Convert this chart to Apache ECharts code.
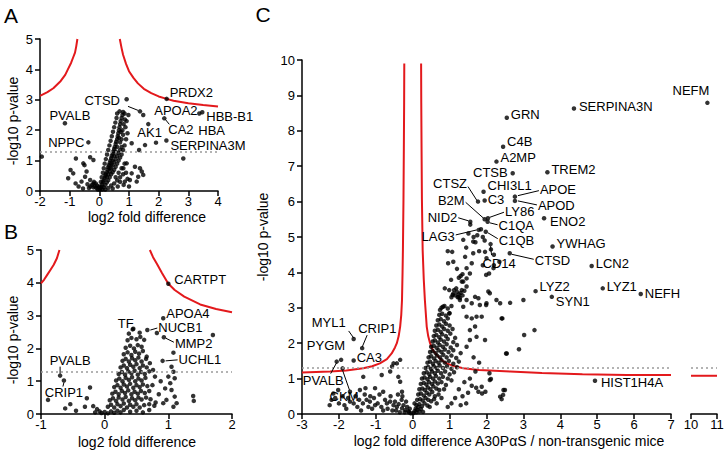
<!DOCTYPE html>
<html><head><meta charset="utf-8">
<script src="https://cdn.jsdelivr.net/npm/echarts@6/dist/echarts.min.js"></script>
<style>html,body{margin:0;padding:0;background:#fff}#c{width:725px;height:453px}</style>
</head><body><div id="c"></div>
<script>
// ---------- DATA ----------
const pThreshold = 1.3;
const xRangeA = [-2, 4], yRangeA = [0, 5];
const xRangeB = [-1, 2], yRangeB = [0, 5];
const xRangeC = [-3, 7], xRangeC2 = [10, 11], yRangeC = [0, 10];

const aPoints = [
[-1.94,1.13],[-0.79,1.07],[-0.31,1.11],[-0.20,1.02],[-0.97,0.69],[-0.88,0.58],[-0.54,0.91],[-0.5,0.85],[-0.43,0.64],[-0.48,0.47],[-1.05,0.42],[-0.6,0.31],[-0.31,0.36],[-0.2,0.25],[-0.8,0.25],[-0.7,0.15],[-0.55,0.08],
[1.09,1.57],[1.54,1.51],[1.91,1.59],[1.34,1.35],[2.83,1.07],[0.92,0.91],[1.2,0.8],[1.37,0.75],[1.43,0.64],[1.31,0.47],[1.09,0.58],[1.03,0.36],[1.26,0.31],[1.48,0.53],[0.86,0.31],[0.81,0.75],[0.92,3.02],
[0.02,0.05],[0.05,0.1],[0.08,0.15],[0.1,0.22],[0.12,0.3],[0.15,0.35],[0.18,0.42],[0.2,0.5],[0.22,0.55],[0.25,0.62],[0.28,0.7],[0.3,0.78],[0.32,0.85],[0.35,0.92],[0.37,1.0],[0.4,1.08],[0.42,1.15],[0.45,1.22],[0.47,1.3],[0.5,1.38],[0.52,1.45],[0.55,1.55],[0.57,1.62],[0.6,1.7],[0.62,1.8],[0.64,1.9],[0.66,2.0],[0.68,2.1],[0.7,2.2],[0.72,2.3],[0.75,2.4],[0.78,2.5],[0.8,2.6],
[0.1,0.05],[0.15,0.12],[0.2,0.2],[0.25,0.28],[0.3,0.35],[0.35,0.45],[0.4,0.55],[0.45,0.62],[0.5,0.7],[0.55,0.8],[0.6,0.9],[0.65,1.0],[0.7,1.1],[0.75,1.2],[0.8,1.35],[0.85,1.5],[0.9,1.7],[0.95,1.9],[0.88,2.1],[0.92,2.3],[0.98,2.5],[0.85,2.55],
[0.2,0.05],[0.3,0.1],[0.4,0.18],[0.5,0.25],[0.6,0.35],[0.7,0.45],[0.8,0.55],[0.9,0.6],[0.55,0.45],[0.65,0.6],[0.75,0.75],[0.85,0.9],[0.7,0.3],[0.82,0.2],[0.95,0.4],[1.0,0.15],[0.62,0.15],[0.45,0.08],
[0.0,0.15],[0.05,0.3],[0.08,0.45],[0.12,0.6],[0.15,0.75],[0.18,0.9],[0.22,1.05],[0.26,1.2],[0.3,1.35],[0.34,1.5],[0.38,1.65],[0.42,1.8],[0.46,1.95],[0.5,2.1],[0.54,2.25],[0.58,2.4],[0.6,2.55],[0.68,2.62],
[0.25,0.45],[0.3,0.55],[0.35,0.65],[0.4,0.75],[0.45,0.85],[0.5,0.95],[0.55,1.05],[0.6,1.15],[0.65,1.25],[0.7,1.35],[0.75,1.45],[0.7,1.6],[0.75,1.7],[0.8,1.85],[0.78,2.0],[0.82,2.2],[0.86,2.35],[0.72,1.95],[0.66,1.75],[0.6,1.45],[0.55,1.3],[0.5,1.15],[0.45,1.0],[0.4,0.88],[0.35,0.75],
[-0.05,0.05],[-0.1,0.1],[-0.15,0.15],[-0.2,0.12],[-0.25,0.2],[-0.3,0.15],[-0.12,0.25],[-0.08,0.18],[-0.35,0.1],[-0.4,0.22],[-0.02,0.12],[-0.18,0.3]
];
const aLabeled = [['PRDX2',2.27,3.03],['CTSD',1.37,2.62],['APOA2',1.48,2.5],['HBB-B1',3.47,2.59],['HBA',3.37,2.55],['CA2',2.19,2.39],['AK1',1.65,2.2],['SERPINA3M',2.26,1.66],['PVALB',-1.16,2.23],['NPPC',-0.37,1.6]];
const aCurveL = [[-2,3.13],[-1.75,3.25],[-1.55,3.38],[-1.3,3.62],[-1.15,3.82],[-1.06,4.0],[-0.95,4.22],[-0.88,4.4],[-0.82,4.55],[-0.78,4.75],[-0.74,5.0]];
const aCurveR = [[0.69,5.0],[0.75,4.7],[0.8,4.48],[0.9,4.18],[1.0,3.94],[1.15,3.72],[1.3,3.54],[1.5,3.36],[1.75,3.22],[2.0,3.11],[2.27,3.03],[2.5,2.97],[3.0,2.89],[3.5,2.83],[4.0,2.78]];

const bPoints = [
[-0.05,0.03],[0.0,0.06],[0.05,0.02],[0.1,0.08],[0.15,0.04],[0.2,0.1],[0.25,0.05],[0.3,0.12],[0.4,0.07],[0.5,0.1],[0.6,0.05],[0.7,0.12],
[0.05,0.22],[0.1,0.28],[0.15,0.2],[0.2,0.3],[0.25,0.24],[0.3,0.32],[0.35,0.2],[0.4,0.28],[0.45,0.22],[0.5,0.3],[0.55,0.2],[0.62,0.27],[0.7,0.3],[0.78,0.25],
[0.08,0.42],[0.13,0.48],[0.18,0.4],[0.22,0.5],[0.28,0.44],[0.33,0.52],[0.38,0.4],[0.43,0.48],[0.48,0.42],[0.53,0.5],[0.58,0.44],[0.65,0.5],[0.72,0.45],
[0.12,0.62],[0.17,0.68],[0.22,0.6],[0.27,0.7],[0.32,0.64],[0.37,0.72],[0.42,0.6],[0.47,0.68],[0.52,0.62],[0.57,0.7],[0.63,0.64],[0.7,0.7],
[0.15,0.82],[0.2,0.88],[0.25,0.8],[0.3,0.9],[0.35,0.84],[0.4,0.92],[0.45,0.8],[0.5,0.88],[0.55,0.82],[0.6,0.9],[0.67,0.85],[0.75,0.88],
[0.18,1.02],[0.23,1.08],[0.28,1.0],[0.33,1.1],[0.38,1.04],[0.43,1.12],[0.48,1.0],[0.53,1.08],[0.58,1.02],[0.64,1.1],
[0.22,1.22],[0.27,1.28],[0.32,1.2],[0.37,1.3],[0.42,1.24],[0.47,1.32],[0.52,1.2],[0.57,1.28],[0.63,1.22],[0.7,1.3],
[0.25,1.42],[0.3,1.48],[0.35,1.4],[0.4,1.5],[0.45,1.44],[0.5,1.52],[0.55,1.4],[0.6,1.48],[0.66,1.42],
[0.28,1.62],[0.33,1.68],[0.38,1.6],[0.43,1.7],[0.48,1.64],[0.53,1.72],[0.58,1.6],[0.65,1.68],
[0.3,1.82],[0.36,1.88],[0.42,1.8],[0.48,1.9],[0.54,1.84],[0.6,1.92],
[0.33,2.02],[0.4,2.08],[0.46,2.0],[0.52,2.1],[0.58,2.05],
[0.36,2.25],[0.42,2.32],[0.5,2.28],[0.56,2.35],[0.62,2.26],
[0.38,2.45],[0.45,2.6],[0.55,2.48],[0.82,2.47],
[0.71,1.55],[0.76,1.34],[0.79,1.14],[0.66,1.75],[1.0,1.14],[1.03,0.94],[1.05,0.73],[1.1,0.53],[1.13,0.33],[1.08,0.22],[0.95,0.78],[0.97,0.43],[0.92,0.33],[1.05,1.44],[1.08,1.29],[1.1,1.09],[1.08,1.87],[1.7,2.41],[1.39,0.55],[1.4,0.4],[0.85,0.6],[0.8,0.35],[0.88,1.0],
[-0.89,0.43],[-0.62,0.17],[-0.54,0.3],[-0.23,0.81],[-0.28,0.48],[-0.31,0.22],[-0.18,0.24],[-0.12,0.15],[-0.08,0.08],[-0.15,0.05],[-0.45,0.1]
];
const bLabeled = [['CARTPT',1.0,3.97],['APOA4',0.92,2.92],['NUCB1',0.67,2.56],['TF',0.44,2.58],['MMP2',0.93,2.34],['UCHL1',0.91,1.62],['PVALB',-0.70,1.17],['CRIP1',-0.64,1.02]];
const bCurveL = [[-1,3.98],[-0.95,4.1],[-0.9,4.25],[-0.85,4.4],[-0.8,4.55],[-0.75,4.75],[-0.71,5.0]];
const bCurveR = [[0.71,5.0],[0.76,4.78],[0.82,4.58],[0.9,4.3],[1.0,3.97],[1.1,3.78],[1.25,3.58],[1.5,3.34],[1.75,3.2],[2.0,3.1]];

const cPoints = [
[0.02,0.03],[0.05,0.08],[0.1,0.05],[0.12,0.12],[0.18,0.07],[0.22,0.14],[0.28,0.06],[0.08,0.15],[0.15,0.2],
[0.1,0.25],[0.18,0.28],[0.25,0.22],[0.32,0.3],[0.4,0.24],[0.46,0.2],[0.05,0.3],
[0.12,0.4],[0.2,0.42],[0.27,0.38],[0.35,0.45],[0.42,0.4],[0.5,0.36],[0.58,0.42],[0.65,0.3],
[0.15,0.55],[0.22,0.58],[0.3,0.52],[0.38,0.6],[0.45,0.55],[0.53,0.62],[0.6,0.5],[0.7,0.55],[0.78,0.45],
[0.18,0.7],[0.26,0.72],[0.33,0.68],[0.41,0.75],[0.48,0.7],[0.56,0.78],[0.64,0.72],[0.72,0.68],[0.85,0.7],
[0.22,0.85],[0.3,0.88],[0.37,0.83],[0.44,0.9],[0.52,0.85],[0.6,0.92],[0.68,0.86],[0.78,0.9],[0.9,0.82],
[0.25,1.0],[0.32,1.03],[0.4,0.98],[0.47,1.05],[0.55,1.0],[0.63,1.07],[0.72,1.0],[0.82,1.05],[0.95,1.0],[1.05,0.95],
[0.3,1.15],[0.38,1.18],[0.45,1.12],[0.52,1.2],[0.6,1.15],[0.68,1.22],[0.77,1.15],[0.88,1.2],[1.0,1.12],[1.12,1.18],
[0.35,1.3],[0.42,1.33],[0.5,1.27],[0.57,1.35],[0.65,1.3],[0.73,1.37],[0.82,1.3],[0.93,1.35],[1.05,1.28],[1.2,1.32],
[0.4,1.45],[0.47,1.48],[0.55,1.42],[0.62,1.5],[0.7,1.45],[0.78,1.52],[0.87,1.45],[0.98,1.5],[1.1,1.42],[1.25,1.48],
[0.43,1.6],[0.5,1.63],[0.58,1.57],[0.66,1.65],[0.74,1.6],[0.83,1.67],[0.92,1.6],[1.05,1.65],[1.18,1.58],
[0.47,1.75],[0.54,1.78],[0.62,1.72],[0.7,1.8],[0.78,1.75],[0.87,1.82],[0.97,1.75],[1.1,1.8],[1.3,1.72],
[0.5,1.9],[0.57,1.93],[0.65,1.87],[0.73,1.95],[0.82,1.9],[0.92,1.97],[1.03,1.88],[1.2,1.95],
[0.54,2.05],[0.6,2.08],[0.68,2.02],[0.76,2.1],[0.85,2.05],[0.95,2.12],[1.1,2.03],
[0.57,2.2],[0.64,2.23],[0.72,2.17],[0.8,2.25],[0.9,2.2],[1.02,2.27],[1.15,2.15],
[0.6,2.35],[0.68,2.38],[0.76,2.32],[0.85,2.4],[0.95,2.35],[1.08,2.4],
[0.64,2.5],[0.72,2.53],[0.8,2.47],[0.9,2.55],[1.0,2.5],
[0.68,2.65],[0.76,2.68],[0.85,2.62],[0.95,2.7],
[0.72,2.8],[0.8,2.83],[0.9,2.78],[1.0,2.85],
[0.78,3.0],[0.86,3.05],[0.95,2.98],[1.05,3.05],
[1.05,3.3],[1.1,3.4],[1.15,3.35],[1.2,3.45],[1.25,3.38],[1.3,3.42],[1.18,3.55],[1.22,3.3],[1.28,3.28],[1.12,3.5],[1.35,3.35],[1.4,3.48],
[1.25,3.85],[1.3,3.9],[1.35,3.95],[1.2,4.1],[1.1,4.3],[0.95,4.6],[1.07,4.58],[1.37,4.92],[1.51,5.1],[1.64,4.87],[0.96,4.26],[1.42,4.44],[1.64,4.54],[1.96,4.58],[1.04,3.79],[1.33,3.74],[1.46,3.83],[0.87,3.55],[0.99,3.5],[1.08,3.36],[0.82,3.03],[0.74,2.94],[0.99,2.84],
[2.37,3.13],[2.64,3.14],[3.0,3.22],[2.43,2.7],[3.02,2.23],[3.3,2.37],[2.88,1.83],[2.53,1.71],[1.96,2.09],[2.08,1.15],[2.09,0.96],[1.78,0.63],[1.87,0.77],[2.37,0.49],[2.46,0.68],[2.0,3.13],[2.05,3.46],[2.07,3.97],[1.99,3.93],[2.19,4.12],[1.6,4.26],[1.46,4.12],[1.55,3.97],[1.37,3.74],[1.46,3.6],[1.33,3.5],[1.24,3.31],[1.28,3.22],[1.37,3.03],[1.46,3.22],[1.6,3.13],[1.69,3.31],[1.78,3.27],[1.82,3.08],[1.87,2.75],[1.73,2.75],[1.6,2.7],[1.46,2.75],[1.69,2.47],[1.55,2.37],[1.73,2.18],[1.55,2.09],[1.46,1.9],
[2.09,3.41],[1.99,3.08],[2.41,2.7],[2.27,3.22],[2.55,1.71],[2.5,0.68],[2.45,0.54],[2.41,0.42],[1.72,0.74],[1.97,0.63],[1.88,0.58],[2.12,0.99],
[1.65,1.6],[1.8,1.45],[1.7,1.2],[1.55,1.0],[1.6,0.8],[1.4,0.9],[1.5,0.6],[1.35,0.5],[1.45,0.3],[1.25,0.7],[1.15,0.45],[1.3,0.25],[1.05,0.3],[0.95,0.2],
[1.56,5.35],[1.65,5.0],[1.75,5.05],[1.85,5.22],[1.9,5.0],[1.95,4.9],[1.7,4.85],[1.45,4.7],[1.8,4.6],[2.0,4.4],[2.2,4.2],[1.9,4.2],[2.2,4.5],[2.35,4.3],[2.12,4.65],
[-0.34,1.53],[-0.43,1.43],[-0.56,1.34],[-0.61,1.2],[-0.84,1.1],[-1.34,1.05],[-0.34,0.91],[-0.29,0.63],[-1.28,0.73],[-1.43,0.68],[-0.52,1.43],[-0.39,1.05],[-1.02,0.73],[-1.25,0.4],[-1.7,0.63],[-2.02,0.68],[-2.15,0.58],[-2.2,0.4],[-1.7,0.35],[-1.16,0.35],[-0.8,0.63],[-0.75,0.4],[-0.61,0.35],[-0.52,0.25],[-0.43,0.2],[-0.29,0.16],[-0.2,0.11],[-0.1,0.05],[-1.02,0.25],
[-2.1,0.45],[-2.0,0.3],[-1.9,0.5],[-1.85,0.25],[-1.75,0.45],[-1.6,0.3],[-1.55,0.5],[-1.5,0.2],[-1.45,0.4],[-1.35,0.3],[-1.3,0.55],[-1.2,0.2],[-1.15,0.5],[-1.1,0.15],[-1.05,0.45],[-0.95,0.3],[-0.9,0.55],[-0.85,0.2],[-0.8,0.1],[-0.7,0.3],[-0.68,0.15],[-0.6,0.5],[-0.55,0.1],[-0.48,0.35],[-0.45,0.1],[-0.38,0.28],[-0.35,0.05],[-0.3,0.4],[-0.25,0.25],[-0.22,0.05],[-0.15,0.2],[-0.12,0.08],[-0.08,0.15],[-0.05,0.02],[-0.18,0.35],[-0.28,0.5],[-0.4,0.55],[-1.4,0.1],[-1.8,0.15],[-2.25,0.25]
];
const cLabeled = [['SERPINA3N',4.37,8.63],['GRN',2.55,8.37],['C4B',2.45,7.55],['A2MP',2.27,7.13],['CTSB',2.71,6.8],['TREM2',3.65,6.83],['CHI3L1',1.92,6.28],['C3',1.95,6.03],['APOE',2.77,6.14],['APOD',2.77,6.02],['ENO2',3.56,5.53],['CTSZ',1.77,6.0],['B2M',1.95,5.5],['LY86',2.04,5.53],['C1QA',2.03,5.43],['NID2',1.56,5.43],['LAG3',1.79,5.2],['C1QB',1.98,5.15],['CD14',2.11,4.8],['CTSD',2.63,4.54],['YWHAG',3.79,4.73],['LCN2',4.85,4.18],['LYZ2',3.33,3.47],['SYN1',3.77,3.31],['LYZ1',5.15,3.55],['NEFH',6.18,3.39],['HIST1H4A',4.94,0.94],['MYL1',-1.6,2.12],['CRIP1',-1.37,1.86],['CA3',-1.6,1.51],['PYGM',-1.94,1.53],['PVALB',-2.06,1.48],['CKM',-1.9,1.29]];
const c2Labeled = [['NEFM',10.63,8.79]];
const cCurveL = [[-3,1.17],[-2.24,1.2],[-1.8,1.23],[-1.34,1.29],[-1.1,1.35],[-0.89,1.43],[-0.7,1.55],[-0.57,1.71],[-0.48,1.88],[-0.43,2.0],[-0.38,2.2],[-0.34,2.47],[-0.31,2.8],[-0.29,3.22],[-0.275,4.0],[-0.265,4.63],[-0.25,6.05],[-0.24,7.5],[-0.232,8.8],[-0.228,9.9]];
const cCurveR = [[0.228,9.9],[0.232,8.8],[0.24,7.5],[0.25,6.05],[0.27,4.63],[0.3,3.8],[0.33,3.22],[0.38,2.47],[0.42,2.2],[0.47,2.0],[0.55,1.8],[0.65,1.67],[0.78,1.52],[0.92,1.43],[1.1,1.36],[1.37,1.29],[1.8,1.24],[2.64,1.2],[3.5,1.16],[4.6,1.12],[5.8,1.1],[7,1.1]];
const c2Curve = [[10,1.08],[11,1.08]];

// ---------- STYLE / LAYOUT (label offsets in px: dx, dy, align, leader x1,y1,x2,y2) ----------
const layoutA = {PRDX2:[3,-6,'left'],CTSD:[-20,-11,'right',-2,-1,-12,-5],APOA2:[11,-5,'left'],'HBB-B1':[4,4,'left'],HBA:[-1,17,'left'],CA2:[4,11,'left',1,1,5,6],AK1:[-11,8,'left'],SERPINA3M:[4,5,'left'],PVALB:[5,-8,'center'],NPPC:[-4,0,'right']};
const layoutB = {CARTPT:[6,-4,'left'],APOA4:[3,-5,'left'],NUCB1:[11,-3,'left',3,0,10,-2],TF:[1,-6,'right'],MMP2:[11,6,'left',2,1,10,5],UCHL1:[16,-1,'left',3,0,15,-1],PVALB:[10,-15,'center',0,-2,0,-9],CRIP1:[0,12,'center',0,2,-1,6]};
const layoutC = {SERPINA3N:[5,-2,'left'],GRN:[4,-3,'left'],C4B:[4,-5,'left'],A2MP:[4,-4,'left'],CTSB:[-5,-1,'right'],TREM2:[4,-3,'left'],CHI3L1:[4,-6,'left'],C3:[3,-1,'left'],APOE:[25,-7,'left',3,-1,24,-6],APOD:[23,5,'left',3,0,22,4],ENO2:[6,3,'left'],CTSZ:[-11,-18,'right',-1,-1,-10,-15],B2M:[-20,-19,'right',-1,-1,-19,-17],LY86:[17,-7,'left',2,-1,16,-6],C1QA:[11,4,'left',2,1,10,3],NID2:[-13,-4,'right',-2,-1,-12,-4],LAG3:[-24,7,'right',-2,0,-23,5],C1QB:[13,9,'left',2,1,12,7],CD14:[-8,19,'left',0,2,1,11],CTSD:[25,7,'left',2,1,24,6],YWHAG:[4,-3,'left'],LCN2:[4,-3,'left'],LYZ2:[4,-5,'left'],SYN1:[4,5,'left'],LYZ1:[4,-2,'left'],NEFH:[4,0,'left'],HIST1H4A:[6,2,'left'],MYL1:[-8,-16,'right',0,-1,-5,-8],CRIP1:[-4,-20,'left',0,-1,5,-13],CA3:[3,-3,'left'],PYGM:[4,-14,'right'],PVALB:[7,19,'right',0,1,-6,12],CKM:[-13,28,'left',0,2,7,22]};
const layoutC2 = {NEFM:[2,-12,'right']};

const FONT = '"Liberation Sans", Arial, Helvetica, sans-serif';
const RED = '#e3191c';
const AX = {color:'#000', width:1.5};

function xAxis(gi, r){ return {gridIndex:gi,type:'value',min:r[0],max:r[1],interval:1,
  axisLine:{show:true,onZero:false,lineStyle:AX},axisTick:{show:true,length:5,lineStyle:AX},
  axisLabel:{color:'#000',fontSize:13,fontFamily:FONT,margin:4},splitLine:{show:false}}; }
function yAxis(gi, r, show){ return {gridIndex:gi,type:'value',min:r[0],max:r[1],interval:1,show:show,
  axisLine:{show:true,onZero:false,lineStyle:AX},axisTick:{show:true,length:5,lineStyle:AX},
  axisLabel:{color:'#000',fontSize:13,fontFamily:FONT,margin:7},splitLine:{show:false}}; }

function scatter(gi, pts, lab){ return {type:'scatter',xAxisIndex:gi,yAxisIndex:gi,symbolSize:4.5,
  itemStyle:{color:'#000'},silent:true,z:3,
  data: pts.concat(lab.map(d=>[d[1],d[2]])),
  markLine:{silent:true,symbol:'none',label:{show:false},animation:false,
    lineStyle:{color:'#9a9a9a',type:[2,3],width:1.5},data:[{yAxis:pThreshold}]}}; }
function curve(gi, pts){ return {type:'line',xAxisIndex:gi,yAxisIndex:gi,data:pts,showSymbol:false,
  symbol:'none',smooth:false,clip:true,silent:true,z:2,lineStyle:{color:RED,width:2}}; }
function labels(gi, items, layout){ return {type:'custom',xAxisIndex:gi,yAxisIndex:gi,clip:false,silent:true,z:5,
  data: items.map(d=>[d[1],d[2]]),
  renderItem:function(params, api){
    const it = items[params.dataIndex]; const L = layout[it[0]];
    const p = api.coord([api.value(0), api.value(1)]);
    const ch = [{type:'text',x:p[0]+L[0],y:p[1]+L[1],style:{text:it[0],font:'13px '+FONT,fill:'#000',
      align:L[2],verticalAlign:'middle',textAlign:L[2],textVerticalAlign:'middle'}}];
    if (L.length > 3) ch.push({type:'line',shape:{x1:p[0]+L[3],y1:p[1]+L[4],x2:p[0]+L[5],y2:p[1]+L[6]},
      style:{stroke:'#000',lineWidth:1}});
    return {type:'group',children:ch};
  }}; }

function txt(t, x, y, size, rot){ return {type:'text',x:x,y:y,rotation:rot||0,silent:true,
  style:{text:t,font:size+'px '+FONT,fill:'#000',align:'center',verticalAlign:'middle',textAlign:'center',textVerticalAlign:'middle'}}; }

const chart = echarts.init(document.getElementById('c'), null, {renderer:'svg', width:725, height:453});
chart.setOption({
  animation:false,
  backgroundColor:'#fff',
  grid:[
    {left:40,top:39,width:178,height:152,outerBoundsMode:'none'},
    {left:41,top:250,width:191,height:164,outerBoundsMode:'none'},
    {left:302,top:60,width:369,height:354,outerBoundsMode:'none'},
    {left:691,top:60,width:26,height:354,outerBoundsMode:'none'}
  ],
  xAxis:[xAxis(0,xRangeA),xAxis(1,xRangeB),xAxis(2,xRangeC),xAxis(3,xRangeC2)],
  yAxis:[yAxis(0,yRangeA,true),yAxis(1,yRangeB,true),yAxis(2,yRangeC,true),yAxis(3,yRangeC,false)],
  series:[
    curve(0,aCurveL),curve(0,aCurveR),scatter(0,aPoints,aLabeled),labels(0,aLabeled,layoutA),
    curve(1,bCurveL),curve(1,bCurveR),scatter(1,bPoints,bLabeled),labels(1,bLabeled,layoutB),
    curve(2,cCurveL),curve(2,cCurveR),scatter(2,cPoints,cLabeled),labels(2,cLabeled,layoutC),
    curve(3,c2Curve),scatter(3,[],c2Labeled),labels(3,c2Labeled,layoutC2)
  ],
  graphic:[
    txt('A',11,15,21),txt('B',11,231,21),txt('C',263,14,21),
    txt('log2 fold difference',147,217,14),
    txt('log2 fold difference',137,442,14),
    txt('log2 fold difference A30P\u03B1S / non-transgenic mice',509,441,14),
    txt('-log10 p-value',13,121,14,Math.PI/2),
    txt('-log10 p-value',13,340,14,Math.PI/2),
    txt('-log10 p-value',263,237,14,Math.PI/2)
  ]
});
</script></body></html>
